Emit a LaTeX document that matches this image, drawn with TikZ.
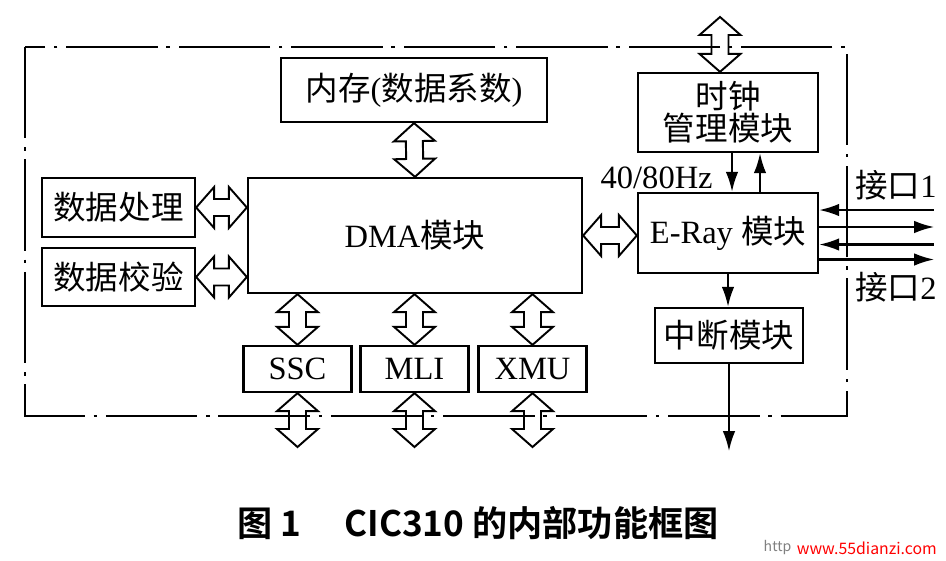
\documentclass[tikz,border=0pt]{standalone}
\usepackage{fontspec}
\setmainfont{Liberation Serif}
\newfontfamily\cjk{Noto Sans CJK SC}
\newfontfamily\capfont{Noto Sans CJK SC Bold}
\usetikzlibrary{calc,arrows.meta}

% hollow two-headed bus arrow between two points
\newcommand{\busarrow}[2]{%
  \coordinate (ba) at ($(#1)!0.36cm!(#2)$);
  \coordinate (bb) at ($(#2)!0.36cm!(#1)$);
  \draw[bus] (#1) -- ($(ba)!0.41cm!90:(#2)$) -- ($(ba)!0.17cm!90:(#2)$)
    -- ($(bb)!0.17cm!-90:(#1)$) -- ($(bb)!0.41cm!-90:(#1)$) -- (#2)
    -- ($(bb)!0.41cm!90:(#1)$) -- ($(bb)!0.17cm!90:(#1)$)
    -- ($(ba)!0.17cm!-90:(#2)$) -- ($(ba)!0.41cm!-90:(#2)$) -- cycle;
}

\begin{document}
\begin{tikzpicture}[
    box/.style={draw, line width=1.3pt, inner sep=0pt, align=center,
      font=\fontsize{18.5}{18}\selectfont},
    lbl/.style={inner sep=0pt, font=\fontsize{18.5}{20}\selectfont},
    bus/.style={line width=1.1pt, line join=miter},
    sig/.style={line width=1.2pt},
    frame/.style={line width=1pt, dash pattern=on 52pt off 5pt on 2pt off 5pt},
    >={Latex[length=0.4cm, width=0.25cm]}]
  \useasboundingbox (0, 0) rectangle (18.92, -11.2);

  % the chip border
  \draw[frame] (0.5, -0.94) rectangle (16.94, -8.32);

  % the DMA side
  \node[box, minimum width=5.32cm, minimum height=1.28cm] (mem) at (8.28, -1.80)
    {{\cjk 内存}({\cjk 数据系数})};
  \node[box, minimum width=6.68cm, minimum height=2.30cm] (dma) at (8.30, -4.71)
    {DMA{\cjk 模块}};
  \node[box, minimum width=3.06cm, minimum height=1.18cm] (proc) at (2.37, -4.15)
    {\cjk 数据处理};
  \node[box, minimum width=3.06cm, minimum height=1.16cm] (chk) at (2.37, -5.54)
    {\cjk 数据校验};

  \busarrow{mem.south}{dma.north}
  \coordinate (procport) at (dma.west |- proc.east);
  \busarrow{proc.east}{procport}
  \coordinate (chkport) at (dma.west |- chk.east);
  \busarrow{chk.east}{chkport}

  \foreach \n/\x/\t in {ssc/5.95/SSC, mli/8.29/MLI, xmu/10.65/XMU}{
    \node[box, minimum width=2.16cm, minimum height=0.92cm] (\n) at (\x, -7.38) {\t};
    \coordinate (dmaport) at (dma.south -| \n.north);
    \busarrow{dmaport}{\n.north}
    \coordinate (ioport) at (\x, -8.94);
    \busarrow{\n.south}{ioport}
  }

  % the E-Ray side
  \node[box, minimum width=3.6cm, minimum height=1.58cm] (clk) at (14.56, -2.25)
    {\cjk 时钟\\\cjk 管理模块};
  \node[box, minimum width=3.6cm, minimum height=1.60cm] (eray) at (14.56, -4.66)
    {E-Ray {\cjk 模块}};
  \node[box, minimum width=2.96cm, minimum height=1.10cm] (intr) at (14.58, -6.71)
    {\cjk 中断模块};

  \coordinate (ext) at (14.4, -0.34);
  \coordinate (clkport) at (ext |- clk.north);
  \busarrow{ext}{clkport}
  \coordinate (erayport) at (dma.east -| eray.west);
  \busarrow{dma.east}{erayport}

  \draw[sig, ->] ([xshift=0.08cm]clk.south) -- ([xshift=0.08cm]eray.north);
  \draw[sig, ->] ([xshift=0.64cm]eray.north) -- ([xshift=0.64cm]clk.south);
  \draw[sig, ->] (eray.south) -- (eray.south |- intr.north);
  \coordinate (irq) at ([yshift=-1.74cm]intr.south);
  \draw[sig, ->] (intr.south) -- (irq);

  \foreach \dy/\dir in {0.46/<-, 0.12/->, -0.23/<-, -0.53/->}{
    \draw[sig, \dir] ([yshift=\dy cm]eray.east) -- ++(2.30, 0);
  }

  \node[lbl, anchor=east] (hz) at (14.26, -3.55) {40/80Hz};
  \node[lbl, anchor=west] (if1) at (17.1, -3.70) {{\cjk 接口}1};
  \node[lbl, anchor=west] (if2) at (17.1, -5.74) {{\cjk 接口}2};

  % caption
  \node[font=\capfont\fontsize{20}{22}\selectfont] (cap) at (9.56, -10.46)
    {图 1\quad\ CIC310 的内部功能框图};
  \node[gray, font=\cjk\fontsize{8}{9}\selectfont] (web1) at (15.55, -10.96) {http};
  \node[red, font=\cjk\fontsize{9}{10}\selectfont, anchor=east] (web2) at (18.86, -10.96)
    {www.55dianzi.com};
\end{tikzpicture}
\end{document}
